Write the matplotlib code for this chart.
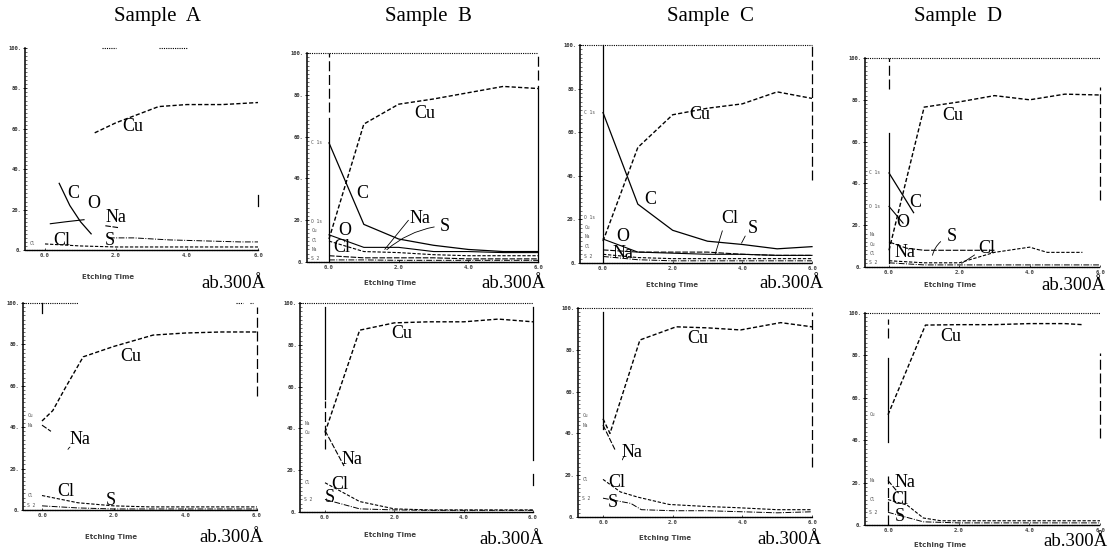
import matplotlib
matplotlib.use("Agg")
import matplotlib.pyplot as plt
from matplotlib.ticker import MultipleLocator

W, H = 1120, 553
SERIF = ["Liberation Serif", "DejaVu Serif"]

# common etching-time grid (x axis), y = atomic concentration %
TIME = [0, 1, 2, 3, 4, 5, 6]
SAMPLES = ["Sample  A", "Sample  B", "Sample  C", "Sample  D"]
Y_TICKS = [0, 20, 40, 60, 80, 100]
Y_TICK_LABELS = ["0.", "20.", "40.", "60.", "80.", "100."]
X_TICKS = [0, 2, 4, 6]
X_TICK_LABELS = ["0.0", "2.0", "4.0", "6.0"]
X_LABEL = "Etching Time"
DEPTH_NOTE = "ab.300Å"

# ---- Sample A, upper profile
A1_CU_T = [1.4, 2.0, 2.6, 3.2, 4.0, 5.0, 6.0]
A1_CU = [58, 63, 67, 71, 72, 72, 73]
A1_C_T = [0.4, 0.7, 1.0, 1.3]
A1_C = [33, 22, 14, 8]
A1_O_T = [0.15, 0.6, 1.1]
A1_O = [13, 14, 15]
A1_NA_T = [1.7, 2.1]
A1_NA = [12, 11]
A1_S_T = [1.8, 2.5, 3.5, 4.5, 5.5, 6.0]
A1_S = [6, 6, 5, 4.5, 4, 4]
A1_CL = [3, 2, 1.5, 1.5, 1.5, 1.5, 1.5]

# ---- Sample B, upper profile
B1_CU = [11, 66, 75.5, 78, 81, 84, 83]
B1_C = [57, 18, 11, 8, 6, 5, 5]
B1_O = [13, 7, 7, 5, 5, 4.5, 4.5]
B1_CL = [10, 5, 4.5, 3.5, 3, 3, 3]
B1_NA = [3, 2, 2, 2, 1.5, 1.5, 1.5]
B1_S = [1, 1, 0.8, 0.8, 0.8, 0.8, 0.8]

# ---- Sample C, upper profile
C1_CU = [10, 53, 68, 71, 73, 78.5, 75.5]
C1_C = [69, 27, 15, 10, 8.5, 6.5, 7.5]
C1_O = [11, 5, 4.5, 4, 4, 3.5, 3.5]
C1_NA = [6, 5, 5, 5, 4, 3.5, 3.5]
C1_CL = [4, 2.5, 2, 2, 2, 2, 2]
C1_S = [3, 1.5, 1, 1, 1, 1, 1]

# ---- Sample D, upper profile
D1_CU = [8, 76.5, 79, 82, 80, 82.7, 82.3]
D1_C_T = [0, 0.7]
D1_C = [45, 26]
D1_O_T = [0, 0.4]
D1_O = [29, 21]
D1_NA_T = [0, 0.5, 1, 2, 3]
D1_NA = [12, 9, 8, 8, 8]
D1_CL_T = [0, 1, 2, 3, 4, 4.5, 5.5]
D1_CL = [3, 2, 2, 7, 9.5, 7, 7]
D1_S = [2, 1, 1, 1, 1, 1, 1]

# ---- Sample A, lower profile
A2_CU_T = [0, 0.3, 0.65, 1.15, 2, 3.1, 4, 5, 6]
A2_CU = [43, 48, 59, 74, 79, 84.5, 85.5, 86, 86]
A2_NA_T = [0, 0.25]
A2_NA = [41, 38]
A2_CL = [7, 3.5, 2, 1.5, 1.5, 1.5, 1.5]
A2_S = [2, 1, 0.5, 0.5, 0.5, 0.5, 0.5]

# ---- Sample B, lower profile
B2_CU = [38, 87, 90.5, 91, 91, 92.3, 91]
B2_NA_T = [0, 0.55]
B2_NA = [39, 22]
B2_CL = [14, 5, 1.5, 1, 1, 1, 1]
B2_S = [6, 1.5, 1, 0.8, 0.8, 0.8, 0.8]

# ---- Sample C, lower profile
C2_CU_T = [0, 0.2, 1.06, 2.1, 3, 3.95, 5.1, 6]
C2_CU = [47, 40, 84.7, 91, 90.5, 89.5, 93, 91]
C2_NA_T = [0, 0.35]
C2_NA = [44, 32]
C2_CL_T = [0, 0.5, 1, 1.9, 3, 3.8, 5, 6]
C2_CL = [18, 12, 9.5, 6, 5, 4.5, 3.5, 3.5]
C2_S_T = [0, 0.8, 1.1, 2, 3, 4, 5, 6]
C2_S = [9, 6.5, 3.5, 3, 3, 2.5, 2, 2.5]

# ---- Sample D, lower profile
D2_CU_T = [0, 1.06, 2, 3, 4, 5, 5.5]
D2_CU = [52, 94.3, 94.5, 94.5, 95, 95, 94.5]
D2_NA_T = [0, 0.3]
D2_NA = [21, 15]
D2_CL_T = [0, 0.54, 1.0, 1.5, 2, 3, 4, 5, 6]
D2_CL = [12, 9.4, 3.3, 2, 2, 2, 2, 2, 2]
D2_S = [6, 1.5, 1, 1, 1, 1, 1]

SERIES = {
    "A1": [("Cu", A1_CU_T, A1_CU), ("C", A1_C_T, A1_C), ("O", A1_O_T, A1_O),
           ("Na", A1_NA_T, A1_NA), ("S", A1_S_T, A1_S), ("Cl", TIME, A1_CL)],
    "B1": [("Cu", TIME, B1_CU), ("C", TIME, B1_C), ("O", TIME, B1_O),
           ("Cl", TIME, B1_CL), ("Na", TIME, B1_NA), ("S", TIME, B1_S)],
    "C1": [("Cu", TIME, C1_CU), ("C", TIME, C1_C), ("O", TIME, C1_O),
           ("Na", TIME, C1_NA), ("Cl", TIME, C1_CL), ("S", TIME, C1_S)],
    "D1": [("Cu", TIME, D1_CU), ("C", D1_C_T, D1_C), ("O", D1_O_T, D1_O),
           ("Na", D1_NA_T, D1_NA), ("Cl", D1_CL_T, D1_CL), ("S", TIME, D1_S)],
    "A2": [("Cu", A2_CU_T, A2_CU), ("Na", A2_NA_T, A2_NA),
           ("Cl", TIME, A2_CL), ("S", TIME, A2_S)],
    "B2": [("Cu", TIME, B2_CU), ("Na", B2_NA_T, B2_NA),
           ("Cl", TIME, B2_CL), ("S", TIME, B2_S)],
    "C2": [("Cu", C2_CU_T, C2_CU), ("Na", C2_NA_T, C2_NA),
           ("Cl", C2_CL_T, C2_CL), ("S", C2_S_T, C2_S)],
    "D2": [("Cu", D2_CU_T, D2_CU), ("Na", D2_NA_T, D2_NA),
           ("Cl", D2_CL_T, D2_CL), ("S", TIME, D2_S)],
}

STYLE = {
    "Cu": dict(ls=(0, (3, 1.6)), lw=1.0),
    "C": dict(ls="-", lw=0.9),
    "O": dict(ls="-", lw=0.8),
    "Na": dict(ls=(0, (5, 1.5)), lw=0.8),
    "Cl": dict(ls=(0, (3, 1.5)), lw=0.8),
    "S": dict(ls=(0, (6, 1.5, 1, 1.5)), lw=0.7),
}
SMALL_TAG = {"Cu": "Cu", "C": "C 1s", "O": "O 1s", "Na": "Na", "Cl": "Cl", "S": "S 2"}

DASH = (0, (8, 3))

# layout: pixel box (left, x=0, right, top, bottom), label spots, frame pieces
PANELS = [
    dict(key="A1", box=(25, 45, 258, 48, 250),
         labels={"Cu": (2.48, 61), "C": (0.8, 28), "O": (1.36, 23), "Na": (2.0, 16),
                 "Cl": (0.47, 4.5), "S": (1.83, 4.5)},
         leaders=[], zero=[], right=[(22, 27, "-")], top=[(1.6, 2.0), (3.2, 4.0)],
         note=(233, 283), xlab=(108, 277)),
    dict(key="B1", box=(307, 329, 538, 53, 262),
         labels={"Cu": (2.76, 71), "C": (0.95, 33), "Na": (2.6, 21), "S": (3.33, 17),
                 "O": (0.46, 15), "Cl": (0.37, 7)},
         leaders=[((2.33, 21), (1.55, 5), 0), ((3.1, 17), (1.6, 5), 0.15)],
         zero=[(72, 100, DASH), (0, 69, "-")], right=[(87, 100, DASH), (0, 84, "-")],
         top=[(-0.63, 6.0)], note=(513, 283), xlab=(390, 283)),
    dict(key="C1", box=(580, 603, 812, 45, 263),
         labels={"Cu": (2.79, 68), "C": (1.35, 29), "O": (0.57, 12), "Na": (0.57, 4.5),
                 "Cl": (3.65, 20.6), "S": (4.3, 16)},
         leaders=[((3.45, 16), (3.2, 3), 0), ((4.12, 13.5), (3.94, 8), 0)],
         zero=[(0, 100, "-")], right=[(38, 100, DASH)],
         top=[(-0.66, 6.0)], note=(791, 283), xlab=(672, 285)),
    dict(key="D1", box=(865, 889, 1100, 58, 267),
         labels={"Cu": (1.82, 72.7), "C": (0.74, 31), "O": (0.4, 21.5), "Na": (0.45, 6.7),
                 "S": (1.8, 14.4), "Cl": (2.78, 9)},
         leaders=[((1.53, 13), (1.22, 4.3), 0.2), ((2.5, 6.5), (2.0, 1), 0)],
         zero=[(85, 100, DASH), (2, 64, "-")], right=[(32, 86, DASH)],
         top=[(-0.68, 6.0)], note=(1073, 285), xlab=(950, 285)),
    dict(key="A2", box=(23, 42, 257, 303, 510),
         labels={"Cu": (2.48, 74), "Na": (1.07, 34), "Cl": (0.65, 8.7), "S": (1.92, 4.8)},
         leaders=[((0.85, 31), (0.7, 28), 0.3)], zero=[(95, 100, "-")],
         right=[(55, 98, DASH)], top=[(-0.53, 1.0), (5.4, 5.6), (5.8, 5.9)],
         note=(231, 537), xlab=(111, 537)),
    dict(key="B2", box=(300, 325, 533, 303, 512),
         labels={"Cu": (2.2, 85.6), "Na": (0.78, 25), "Cl": (0.43, 13), "S": (0.14, 6.7)},
         leaders=[], zero=[(54, 98, "-"), (30, 53, DASH)],
         right=[(25, 98, "-"), (13, 18, "-")], top=[(-0.72, 6.0)],
         note=(511, 539), xlab=(390, 535)),
    dict(key="C2", box=(578, 603, 812, 308, 517),
         labels={"Cu": (2.73, 85.6), "Na": (0.83, 31), "Cl": (0.4, 16.7), "S": (0.29, 7)},
         leaders=[((0.68, 30), (0.55, 26), 0.3)], zero=[(42, 98, "-")],
         right=[(24, 98, DASH)], top=[(-0.72, 6.0)],
         note=(790, 539), xlab=(665, 538)),
    dict(key="D2", box=(865, 888, 1100, 313, 525),
         labels={"Cu": (1.77, 88.7), "Na": (0.49, 20), "Cl": (0.34, 11.8), "S": (0.34, 3.8)},
         leaders=[], zero=[(88, 97, DASH), (39, 79, "-"), (0, 23, DASH)],
         right=[(41, 81, DASH)], top=[(-0.65, 6.0)],
         note=(1076, 542), xlab=(940, 545)),
]

TITLE_POS = [(157, 16), (428, 16), (710, 16), (958, 16)]


def fx(px):
    return px / W


def fy(py):
    return 1 - py / H


fig = plt.figure(figsize=(W / 100, H / 100), dpi=100)
fig.patch.set_facecolor("white")

for name, (tx, ty) in zip(SAMPLES, TITLE_POS):
    fig.text(fx(tx), fy(ty), name, family=SERIF, fontsize=15, ha="center", va="center")

for p in PANELS:
    left, x0, right, top, bottom = p["box"]
    ax = fig.add_axes([fx(left), fy(bottom), (right - left) / W, (bottom - top) / H])
    scale = (right - x0) / 6.0
    xmin = -(x0 - left) / scale
    ax.set_xlim(xmin, 6.0)
    ax.set_ylim(0, 100)
    ax.set_facecolor("none")

    for side in ("top", "right"):
        ax.spines[side].set_visible(False)
    ax.spines["left"].set_linewidth(1.1)
    ax.spines["bottom"].set_linewidth(1.0)
    ax.spines["bottom"].set_linestyle((0, (1, 0.8)))

    ax.set_yticks(Y_TICKS)
    ax.set_yticklabels(Y_TICK_LABELS, fontsize=4, family="DejaVu Sans Mono",
                       fontweight="bold", color="0.2")
    ax.yaxis.set_minor_locator(MultipleLocator(2))
    ax.tick_params(axis="y", which="major", length=2.5, width=0.6, direction="inout", pad=1)
    ax.tick_params(axis="y", which="minor", length=1.3, width=0.4, direction="in")
    ax.set_xticks(X_TICKS)
    ax.set_xticklabels(X_TICK_LABELS, fontsize=4, family="DejaVu Sans Mono",
                       fontweight="bold", color="0.25")
    ax.tick_params(axis="x", length=1.5, width=0.5, direction="in", pad=2)

    # frame pieces from the recorder plot
    for a, b in p["top"]:
        ax.plot([a, b], [100, 100], color="black", lw=0.8, ls=(0, (1, 1)), clip_on=False)
    for a, b, ls in p["zero"]:
        ax.plot([0, 0], [a, b], color="black", lw=0.9, ls=ls, clip_on=False)
    for a, b, ls in p["right"]:
        ax.plot([6, 6], [a, b], color="black", lw=0.9, ls=ls, clip_on=False)

    tags = []
    for elem, t, y in SERIES[p["key"]]:
        ax.plot(t, y, color="black", clip_on=False, **STYLE[elem])
        if t[0] == 0:
            tags.append((y[0], SMALL_TAG[elem]))

    # tiny channel tags beside the y axis, spread so they do not collide
    last = -10
    for ty, tag in sorted(tags):
        ty = max(ty, last + 4.5, 1.5)
        last = ty
        ax.text(xmin + 0.12, ty, tag, fontsize=3.3, family="DejaVu Sans Mono",
                color="0.3", va="center", ha="left")

    for elem, (lx, ly) in p["labels"].items():
        ax.text(lx, ly, elem, family=SERIF, fontsize=13, ha="center", va="center")

    for (ax1, ay1), (ax2, ay2), rad in p["leaders"]:
        ax.annotate("", xy=(ax2, ay2), xytext=(ax1, ay1),
                    arrowprops=dict(arrowstyle="-", lw=0.6, color="black",
                                    connectionstyle=f"arc3,rad={rad}"))

    nx, ny = p["note"]
    fig.text(fx(nx), fy(ny), DEPTH_NOTE, family=SERIF, fontsize=13.5,
             ha="center", va="center")
    lx, ly = p["xlab"]
    fig.text(fx(lx), fy(ly), X_LABEL, family="DejaVu Sans", fontsize=5,
             fontweight="bold", color="0.25", ha="center", va="center")

fig.savefig("out.png", dpi=100, facecolor="white")
